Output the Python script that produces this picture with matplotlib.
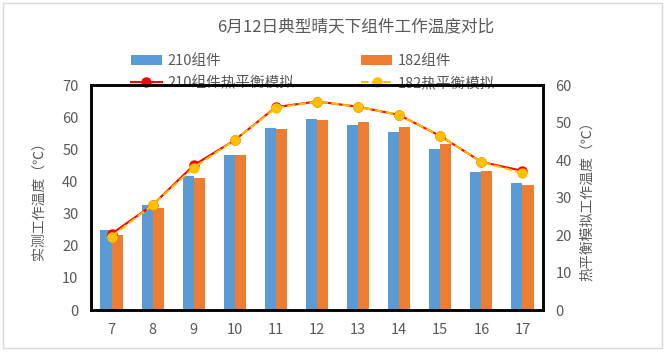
import matplotlib
matplotlib.use("Agg")
import matplotlib.pyplot as plt
import numpy as np
from matplotlib.patches import Rectangle

plt.rcParams['font.family'] = ['Noto Sans CJK SC', 'DejaVu Sans']

hours = ['7', '8', '9', '10', '11', '12', '13', '14', '15', '16', '17']
meas_210 = [24.9, 32.7, 41.8, 48.1, 56.6, 59.5, 57.7, 55.3, 50.0, 43.0, 39.6]
meas_182 = [23.3, 31.6, 41.2, 48.1, 56.3, 59.2, 58.5, 57.0, 51.5, 43.3, 38.9]
sim_210 = [20.3, 28.0, 38.6, 45.3, 54.1, 55.6, 54.2, 52.0, 46.4, 39.5, 37.1]
sim_182 = [19.6, 28.0, 38.0, 45.3, 53.9, 55.6, 54.2, 52.0, 46.4, 39.5, 36.5]

title = '6月12日典型晴天下组件工作温度对比'
labels = ['210组件', '182组件', '210组件热平衡模拟', '182热平衡模拟']
ylabel_left = '实测工作温度（℃）'
ylabel_right = '热平衡模拟工作温度（℃）'

grey = '#595959'
fig = plt.figure(figsize=(6.68, 3.53), dpi=100)
fig.patches.append(Rectangle((0.005, 0.014), 0.986, 0.978, transform=fig.transFigure,
                             fill=False, edgecolor='#d9d9d9', linewidth=1))

ax = fig.add_axes([0.1362, 0.1218, 0.6767, 0.6374])
ax2 = ax.twinx()
ax.set_zorder(1)
ax2.set_zorder(2)
ax.patch.set_visible(False)
ax2.patch.set_visible(False)

x = np.arange(len(hours))
w = 0.27
b1 = ax.bar(x - w / 2, meas_210, w, color='#5B9BD5', label=labels[0])
b2 = ax.bar(x + w / 2, meas_182, w, color='#ED7D31', label=labels[1])
l1, = ax2.plot(x, sim_210, color='#FF0000', lw=1.5, marker='o', ms=6.5, label=labels[2])
l2, = ax2.plot(x, sim_182, color='#FFC000', lw=1.5, ls='--', marker='o', ms=6.5, label=labels[3])

ax.set_xlim(-0.5, len(hours) - 0.5)
ax.set_ylim(0, 70)
ax2.set_ylim(0, 60)
ax.set_yticks(np.arange(0, 71, 10))
ax2.set_yticks(np.arange(0, 61, 10))
ax.set_xticks(x)
ax.set_xticklabels(hours)

for a in (ax, ax2):
    a.tick_params(length=0, labelsize=10.5, colors=grey, pad=9)
    for s in a.spines.values():
        s.set_color('black')
        s.set_linewidth(1.8)

ax.set_ylabel(ylabel_left, fontsize=10, color=grey, labelpad=12)
ax2.set_ylabel(ylabel_right, fontsize=10, color=grey, labelpad=6)

fig.text(0.532, 0.925, title, ha='center', va='center', fontsize=12, color=grey)

leg = fig.legend([b1, l1, b2, l2], [labels[0], labels[2], labels[1], labels[3]],
                 ncol=2, loc='center', bbox_to_anchor=(0.4686, 0.795), frameon=False,
                 fontsize=10.5, labelcolor=grey, columnspacing=4.6, handlelength=2.1,
                 handletextpad=0.4, labelspacing=0.55)
leg.set_zorder(0)

fig.savefig('out.png', dpi=100)
